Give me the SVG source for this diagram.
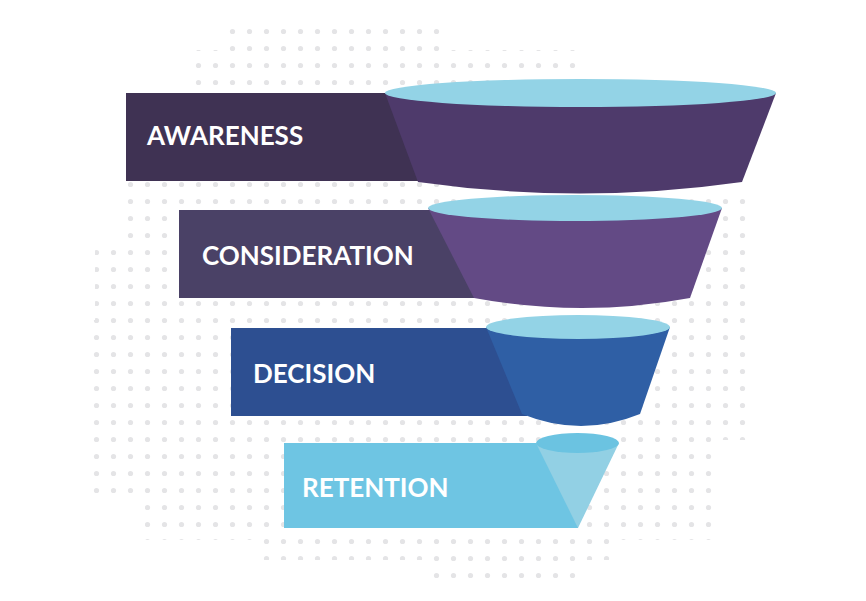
<svg xmlns="http://www.w3.org/2000/svg" width="866" height="601" viewBox="0 0 866 601">
<style>
.t{font-family:Lato,"Open Sans",sans-serif;font-weight:bold;font-size:26px;fill:#fff}
.rim{fill:#93d3e6}
</style>
<defs>
<pattern id="dots" x="3" y="6" width="17" height="17" patternUnits="userSpaceOnUse"><circle cx="8.5" cy="8.5" r="2.6" fill="#e4e4e6"/></pattern>
</defs>
<rect width="866" height="601" fill="#fff"/>
<path d="M225,20 H445 V50 H580 V75 H640 V190 H750 V440 H720 V540 H620 V560 H580 V585 H425 V560 H255 V540 H145 V500 H90 V320 H95 V240 H120 V180 H125 V100 H190 V50 H225 Z" fill="url(#dots)"/>
<g id="awareness">
<rect x="126" y="93" width="300" height="88" fill="#3f3253"/>
<path d="M385,93 L418,182 Q580,205 742,182 L776,93 Z" fill="#4e3a6b"/>
<ellipse class="rim" cx="580.5" cy="93" rx="195.5" ry="14"/>
<text class="t" x="147" y="145">AWARENESS</text>
</g>
<g id="consideration">
<rect x="179" y="210" width="300" height="88" fill="#4a4166"/>
<path d="M428,208 L474,298 Q582,318 690,298 L722,208 Z" fill="#634a85"/>
<ellipse class="rim" cx="575" cy="208" rx="147" ry="13"/>
<text class="t" x="202" y="265">CONSIDERATION</text>
</g>
<g id="decision">
<rect x="231" y="328" width="296" height="88" fill="#2d4f91"/>
<path d="M486,327 L522,414 Q581,438 640,414 L670,327 Z" fill="#2f5fa5"/>
<ellipse class="rim" cx="578" cy="327" rx="92" ry="12"/>
<text class="t" x="253" y="383">DECISION</text>
</g>
<g id="retention">
<rect x="284" y="443" width="294" height="85" fill="#6ec5e3"/>
<path d="M536,443 L578,528 L619,443 Z" fill="#92d0e4"/>
<ellipse cx="577.5" cy="443" rx="41.5" ry="10" fill="#6bc3e1"/>
<text class="t" x="302" y="497">RETENTION</text>
</g>
<g id="connectors"/>
</svg>
